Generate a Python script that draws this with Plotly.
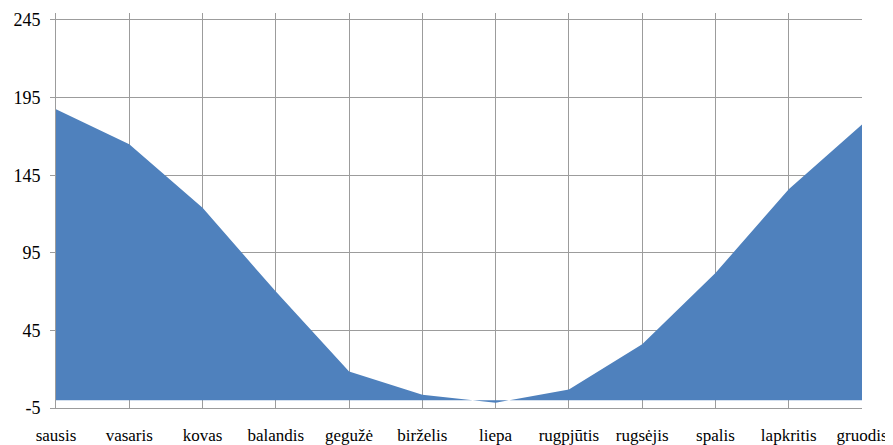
import plotly.graph_objects as go

months = ["sausis", "vasaris", "kovas", "balandis", "gegužė", "birželis",
          "liepa", "rugpjūtis", "rugsėjis", "spalis", "lapkritis", "gruodis"]
values = [187.5, 165, 124, 70, 18.5, 3.5, -1.6, 7, 36, 82, 136, 177.7]
y_ticks = [-5, 45, 95, 145, 195, 245]

grid = "#9c9c9c"
font = dict(family="Liberation Serif, Times New Roman, serif", size=17, color="#000000")
yfont = dict(family="Liberation Serif, Times New Roman, serif", size=18, color="#000000")

fig = go.Figure()
fig.add_trace(go.Scatter(
    x=months, y=values, mode="lines", fill="tozeroy",
    fillcolor="#4f81bd", line=dict(width=0, color="#4f81bd"),
    hoverinfo="x+y", showlegend=False,
))

fig.update_layout(
    width=885, height=437,
    margin=dict(l=48, r=31, t=5, b=37),
    paper_bgcolor="white", plot_bgcolor="white",
    font=font,
    xaxis=dict(
        type="category", range=[0, 11], automargin=False,
        showgrid=True, gridcolor=grid, gridwidth=1,
        showline=True, linecolor=grid, linewidth=1,
        ticks="", tickfont=font, ticklabelstandoff=12,
        zeroline=False, fixedrange=True,
    ),
    yaxis=dict(
        range=[-5, 249.5], tickvals=y_ticks, ticktext=[str(v) for v in y_ticks],
        automargin=False,
        showgrid=True, gridcolor=grid, gridwidth=1,
        showline=True, linecolor=grid, linewidth=1,
        ticks="outside", ticklen=5, tickcolor=grid,
        tickfont=yfont, ticklabelstandoff=6,
        zeroline=False, fixedrange=True,
    ),
)

fig.write_html("out.html")
